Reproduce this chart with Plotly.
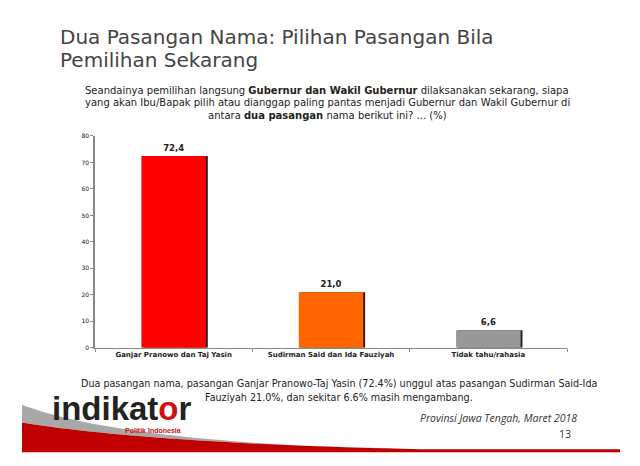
import plotly.graph_objects as go

W, H = 640, 466

categories = ["Ganjar Pranowo dan Taj Yasin", "Sudirman Said dan Ida Fauziyah", "Tidak tahu/rahasia"]
values = [72.4, 21.0, 6.6]
value_labels = ["<b>72,4</b>", "<b>21,0</b>", "<b>6,6</b>"]
bar_colors = ["#FF0000", "#FF6600", "#999999"]
y_ticks = [0, 10, 20, 30, 40, 50, 60, 70, 80]

def px(x):
    return x / W

def py(y):
    return 1 - y / H

fig = go.Figure()

# shadow bars
fig.add_trace(go.Bar(
    x=categories, y=values, width=0.41, offset=-0.205 + 0.012,
    marker=dict(color="#222222", line=dict(width=0)),
    hoverinfo="skip", showlegend=False,
))
fig.add_trace(go.Bar(
    x=categories, y=values, width=0.41, offset=-0.205,
    marker=dict(color=bar_colors, line=dict(width=0)),
    text=value_labels, textposition="outside",
    textfont=dict(family="DejaVu Sans", size=8.5, color="#222222"),
    cliponaxis=False, showlegend=False,
))

fig.update_layout(
    width=W, height=H,
    margin=dict(l=0, r=0, t=0, b=0),
    paper_bgcolor="white", plot_bgcolor="white",
    barmode="overlay",
    xaxis=dict(
        domain=[px(95), px(567)],
        showline=True, linecolor="#888888", linewidth=1,
        ticks="outside", tickson="boundaries", ticklen=3, tickcolor="#888888",
        tickfont=dict(family="DejaVu Sans", size=7, color="#222222"),
        tickprefix="<b>", ticksuffix="</b>",
        showgrid=False, zeroline=False,
    ),
    yaxis=dict(
        domain=[py(349), py(134)],
        range=[0, 80],
        tickvals=y_ticks,
        showline=True, linecolor="#888888", linewidth=1.5,
        ticks="outside", ticklen=3, tickcolor="#888888",
        tickfont=dict(family="DejaVu Sans", size=6, color="#111111"),
        tickprefix="<b>", ticksuffix="</b>",
        showgrid=False, zeroline=False,
    ),
    font=dict(family="DejaVu Sans"),
)

ann = []
# title
ann.append(dict(x=px(58), y=py(33), xref="paper", yref="paper", xanchor="left", yanchor="middle",
                text="Dua Pasangan Nama: Pilihan Pasangan Bila", showarrow=False,
                font=dict(family="DejaVu Sans", size=20, color="#444444")))
ann.append(dict(x=px(58), y=py(57), xref="paper", yref="paper", xanchor="left", yanchor="middle",
                text="Pemilihan Sekarang", showarrow=False,
                font=dict(family="DejaVu Sans", size=20, color="#444444")))
# subtitle
sub = ["Seandainya pemilihan langsung <b>Gubernur dan Wakil Gubernur</b> dilaksanakan sekarang, siapa",
       "yang akan Ibu/Bapak pilih atau dianggap paling pantas menjadi Gubernur dan Wakil Gubernur di",
       "antara <b>dua pasangan</b> nama berikut ini? ... (%)"]
for i, s in enumerate(sub):
    ann.append(dict(x=px(327), y=py(88 + 12.5 * i), xref="paper", yref="paper", xanchor="center", yanchor="middle",
                    text=s, showarrow=False, font=dict(family="DejaVu Sans", size=10, color="#222222")))
# bottom note
note = ["Dua pasangan nama, pasangan Ganjar Pranowo-Taj Yasin (72.4%) unggul atas pasangan Sudirman Said-Ida",
        "Fauziyah 21.0%, dan sekitar 6.6% masih mengambang."]
for i, s in enumerate(note):
    ann.append(dict(x=px(339), y=py(385 + 14 * i), xref="paper", yref="paper", xanchor="center", yanchor="middle",
                    text=s, showarrow=False, font=dict(family="DejaVu Sans", size=9.6, color="#222222")))
# footer
ann.append(dict(x=px(579), y=py(420), xref="paper", yref="paper", xanchor="right", yanchor="middle",
                text="<i>Provinsi Jawa Tengah, Maret 2018</i>", showarrow=False,
                font=dict(family="Open Sans", size=10.5, color="#333333")))
ann.append(dict(x=px(573), y=py(437), xref="paper", yref="paper", xanchor="right", yanchor="middle",
                text="13", showarrow=False, font=dict(family="Open Sans", size=10.5, color="#333333")))
# logo
ann.append(dict(x=px(50), y=py(411), xref="paper", yref="paper", xanchor="left", yanchor="middle",
                text="<b>indikat<span style='color:#CC1111'>o</span>r</b>", showarrow=False,
                font=dict(family="Liberation Sans", size=33, color="#222222")))
ann.append(dict(x=px(123), y=py(433), xref="paper", yref="paper", xanchor="left", yanchor="middle",
                text="<b>Politik Indonesia</b>", showarrow=False,
                font=dict(family="Liberation Sans", size=7, color="#CC1111")))
fig.update_layout(annotations=ann)

def path(points, close=True):
    s = "M " + " L ".join(f"{px(x):.4f},{py(y):.4f}" for x, y in points)
    return s + (" Z" if close else "")

def curve_pts(p0, p1, p2, n=30):
    pts = []
    for i in range(n + 1):
        t = i / n
        x = (1 - t) ** 2 * p0[0] + 2 * (1 - t) * t * p1[0] + t ** 2 * p2[0]
        y = (1 - t) ** 2 * p0[1] + 2 * (1 - t) * t * p1[1] + t ** 2 * p2[1]
        pts.append((x, y))
    return pts

grey_top = curve_pts((22, 407), (110, 440), (320, 449))
red_top = curve_pts((22, 425), (150, 446), (420, 452))
grey_poly = grey_top + list(reversed(red_top[:]))
red_poly = red_top + [(620, 452), (620, 455), (22, 455)]

shapes = [
    dict(type="path", xref="paper", yref="paper", path=path(grey_poly),
         fillcolor="#A8A8A8", line=dict(width=0), layer="below"),
    dict(type="path", xref="paper", yref="paper", path=path(red_poly),
         fillcolor="#C00000", line=dict(width=0), layer="below"),
]
fig.update_layout(shapes=shapes)

fig.write_html("out.html", config={"displayModeBar": False},
               post_script="document.body.style.margin='0';document.body.style.overflow='hidden';")
